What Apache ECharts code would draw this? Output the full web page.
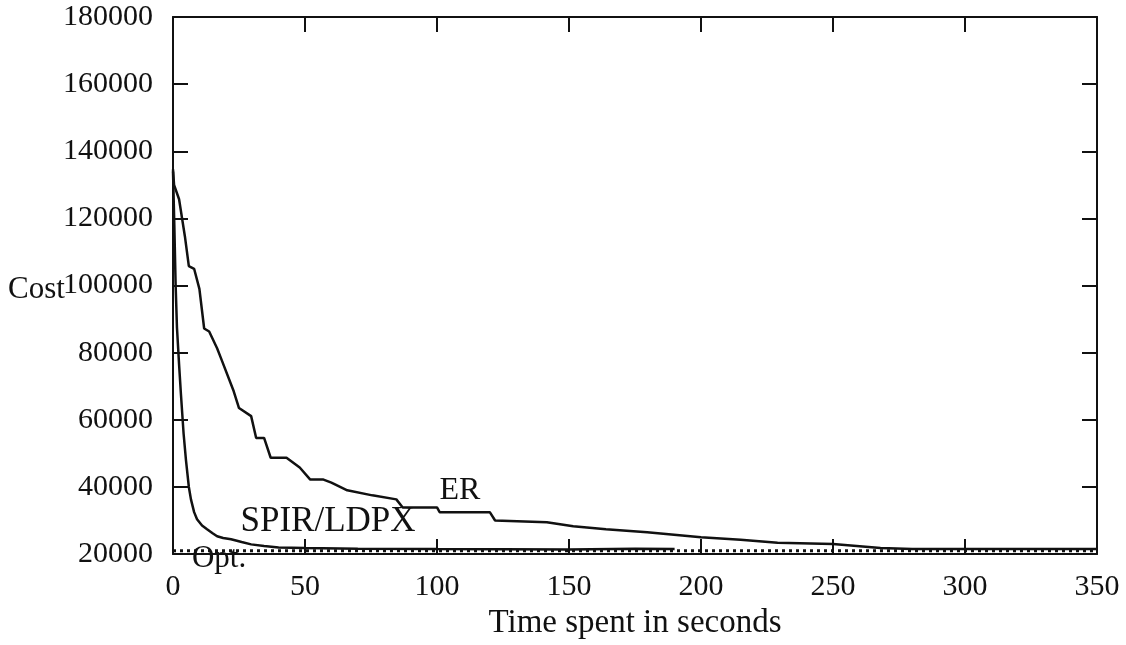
<!DOCTYPE html>
<html>
<head>
<meta charset="utf-8">
<script src="https://cdn.jsdelivr.net/npm/echarts@6/dist/echarts.min.js"></script>
<style>
html,body{margin:0;padding:0;background:#fff;}
#chart{width:1126px;height:645px;}
</style>
</head>
<body>
<div id="chart"></div>
<script>
// ---- data ----
var xTicks = [0, 50, 100, 150, 200, 250, 300, 350];
var yTicks = [20000, 40000, 60000, 80000, 100000, 120000, 140000, 160000, 180000];

var erTime = [0, 0.4, 2.3, 4.5, 6, 8, 10, 11.8, 13.7, 16.7, 18.2, 23, 25, 29.6, 31.5, 34.5, 37, 43, 48, 52, 57, 60, 66, 75.5, 84.6, 87, 100, 101, 120, 122, 141.6, 151.6, 164, 179.6, 200, 215, 229, 250, 268, 280, 350];
var erCost = [134600, 130000, 125700, 114700, 105800, 105000, 99000, 87200, 86300, 81300, 78300, 68500, 63500, 61100, 54600, 54600, 48700, 48700, 45800, 42200, 42200, 41300, 39000, 37500, 36300, 33900, 33900, 32500, 32500, 30000, 29500, 28300, 27400, 26500, 25000, 24300, 23400, 23000, 21800, 21500, 21500];

var spirTime = [0, 0.5, 1, 1.5, 2.3, 3, 4, 4.9, 6, 6.8, 8, 9.1, 11, 12.9, 15, 16.7, 19, 22, 26, 29.6, 34.5, 40, 50, 70, 100, 150, 175, 190];
var spirCost = [134000, 118000, 100000, 87500, 76500, 67700, 56000, 48100, 40000, 36300, 32500, 30400, 28500, 27400, 26200, 25300, 24800, 24400, 23600, 22900, 22400, 22000, 21800, 21600, 21500, 21400, 21600, 21500];

var optTime = [0, 350];
var optCost = [21000, 21000];

function zip(a, b) { return a.map(function (v, i) { return [v, b[i]]; }); }

var chart = echarts.init(document.getElementById('chart'), null, {renderer: 'canvas'});
var numFont = 'Liberation Serif';
var ink = '#111111';

var axisCommon = {
  axisLine: {show: true, onZero: false, lineStyle: {color: ink, width: 2}},
  axisTick: {show: true, inside: true, length: 15, lineStyle: {color: ink, width: 2}},
  splitLine: {show: false}
};

chart.setOption({
  animation: false,
  backgroundColor: '#ffffff',
  grid: {left: 173, right: 29, top: 17, bottom: 87, containLabel: false},
  xAxis: [
    Object.assign({}, axisCommon, {
      type: 'value', min: 0, max: 350, interval: 50, position: 'bottom',
      axisLabel: {margin: 18, color: ink, fontFamily: numFont, fontSize: 30,
        formatter: function (v) { return xTicks.indexOf(v) >= 0 ? String(v) : ''; }},
      name: 'Time spent in seconds', nameLocation: 'middle', nameGap: 50,
      nameTextStyle: {color: ink, fontFamily: numFont, fontSize: 33}
    }),
    Object.assign({}, axisCommon, {
      type: 'value', min: 0, max: 350, interval: 50, position: 'top',
      axisLabel: {show: false}
    })
  ],
  yAxis: [
    Object.assign({}, axisCommon, {
      type: 'value', min: 20000, max: 180000, interval: 20000, position: 'left',
      axisLabel: {margin: 20, color: ink, fontFamily: numFont, fontSize: 30,
        formatter: function (v) { return yTicks.indexOf(v) >= 0 ? String(v) : ''; }}
    }),
    Object.assign({}, axisCommon, {
      type: 'value', min: 20000, max: 180000, interval: 20000, position: 'right',
      axisLabel: {show: false}
    })
  ],
  series: [
    {
      name: 'Opt.', type: 'line', data: zip(optTime, optCost), showSymbol: false, z: 5,
      lineStyle: {color: ink, width: 3, type: [3, 4]}
    },
    {
      name: 'SPIR/LDPX', type: 'line', data: zip(spirTime, spirCost), showSymbol: false,
      lineStyle: {color: ink, width: 2.5}
    },
    {
      name: 'ER', type: 'line', data: zip(erTime, erCost), showSymbol: false,
      lineStyle: {color: ink, width: 2.5}
    }
  ],
  graphic: [
    {type: 'text', x: 8, y: 290, style: {text: 'Cost', fill: ink, font: '31px "Liberation Serif"', textAlign: 'left', textVerticalAlign: 'middle'}},
    {type: 'text', x: 460, y: 491, style: {text: 'ER', fill: ink, font: '32px "Liberation Serif"', textAlign: 'center', textVerticalAlign: 'middle'}},
    {type: 'text', x: 328, y: 522, style: {text: 'SPIR/LDPX', fill: ink, font: '35px "Liberation Serif"', textAlign: 'center', textVerticalAlign: 'middle'}},
    {type: 'text', x: 219, y: 559, style: {text: 'Opt.', fill: ink, font: '31px "Liberation Serif"', textAlign: 'center', textVerticalAlign: 'middle'}}
  ]
});
</script>
</body>
</html>
